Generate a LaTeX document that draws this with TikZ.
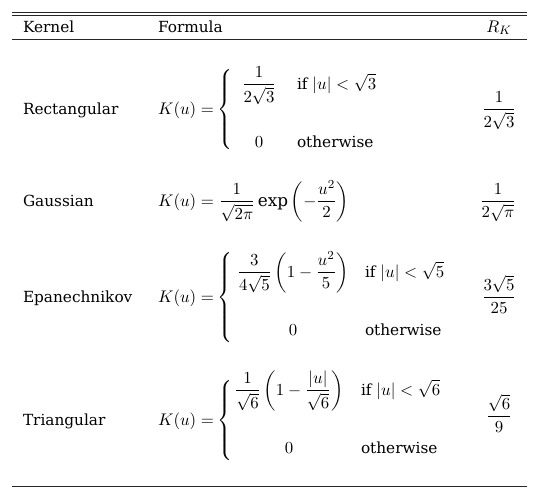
\RequirePackage{fix-cm}
\documentclass[tikz,border=0pt]{standalone}
\usepackage{amsmath}
\usepackage{fontspec}
\setmainfont{DejaVu Serif}
\DeclareMathSizes{10}{11}{8}{6}
\begin{document}
\begin{tikzpicture}[x=0.653pt,y=-0.653pt,
  txt/.style={inner sep=0pt, outer sep=0pt},
  lft/.style={txt, anchor=base west},
  ctr/.style={txt, anchor=base},
  rulel/.style={line width=0.45pt, black!85}]
\useasboundingbox (0,0) rectangle (539,499);
% rules
\coordinate (t1l) at (12,12.3); \coordinate (t1r) at (527,12.3);
\coordinate (t2l) at (12,15);   \coordinate (t2r) at (527,15);
\coordinate (hl) at (12,39.5);  \coordinate (hr) at (527,39.5);
\coordinate (bl) at (12,486);   \coordinate (br) at (527,486);
\draw[rulel] (t1l) -- (t1r);
\draw[rulel] (t2l) -- (t2r);
\draw[rulel] (hl) -- (hr);
\draw[rulel] (bl) -- (br);
% header
\node[lft] (hk) at (23,32) {Kernel};
\node[lft] (hf) at (158,32) {Formula};
\node[ctr] (hrk) at (499,32) {$R_K$};
% Rectangular
\node[lft] (k1) at (23,114) {Rectangular};
\node[lft] (f1) at (158,114) {$K(u)=$};
\node[lft] (b1) at (217,114) {$\left\{\vrule height 25pt depth 25pt width 0pt\right.$};
\node[ctr] (a1) at (259,89) {$\dfrac{1}{2\sqrt{3}}$};
\node[ctr] (z1) at (259,147) {$0$};
\node[lft] (c1) at (297,89) {if $|u|<\sqrt{3}$};
\node[lft] (o1) at (297,147) {otherwise};
\node[ctr] (r1) at (499,114) {$\dfrac{1}{2\sqrt{3}}$};
% Gaussian
\node[lft] (k2) at (23,206) {Gaussian};
\node[lft] (f2) at (158,206) {$K(u)=\dfrac{1}{\sqrt{2\pi}}\exp\left(-\dfrac{u^2}{2}\right)$};
\node[ctr] (r2) at (498,206) {$\dfrac{1}{2\sqrt{\pi}}$};
% Epanechnikov
\node[lft] (k3) at (23,302) {Epanechnikov};
\node[lft] (f3) at (158,302) {$K(u)=$};
\node[lft] (b3) at (217,302) {$\left\{\vrule height 29pt depth 29pt width 0pt\right.$};
\node[ctr] (a3) at (293,277) {$\dfrac{3}{4\sqrt{5}}\left(1-\dfrac{u^2}{5}\right)$};
\node[ctr] (z3) at (293,335) {$0$};
\node[lft] (c3) at (365,277) {if $|u|<\sqrt{5}$};
\node[lft] (o3) at (365,335) {otherwise};
\node[ctr] (r3) at (499,302) {$\dfrac{3\sqrt{5}}{25}$};
% Triangular
\node[lft] (k4) at (23,425) {Triangular};
\node[lft] (f4) at (158,425) {$K(u)=$};
\node[lft] (b4) at (217,425) {$\left\{\vrule height 26pt depth 26pt width 0pt\right.$};
\node[ctr] (a4) at (289,395) {$\dfrac{1}{\sqrt{6}}\left(1-\dfrac{|u|}{\sqrt{6}}\right)$};
\node[ctr] (z4) at (289,453) {$0$};
\node[lft] (c4) at (361,395) {if $|u|<\sqrt{6}$};
\node[lft] (o4) at (361,453) {otherwise};
\node[ctr] (r4) at (499,421) {$\dfrac{\sqrt{6}}{9}$};
\end{tikzpicture}
\end{document}
